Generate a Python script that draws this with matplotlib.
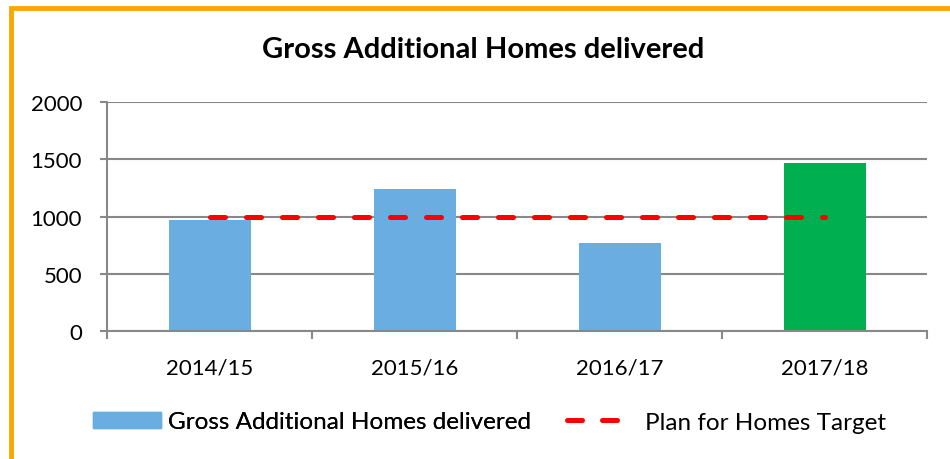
import matplotlib.pyplot as plt
import matplotlib.patches as mpatches
from matplotlib.lines import Line2D
import numpy as np

years = ["2014/15", "2015/16", "2016/17", "2017/18"]
homes = [970, 1240, 770, 1465]
target = [1000, 1000, 1000, 1000]
bar_colors = ["#6AADE0", "#6AADE0", "#6AADE0", "#00B050"]

plt.rcParams['font.family'] = ['Lato', 'DejaVu Sans']

fig = plt.figure(figsize=(9.5, 4.6), dpi=100)
ax = fig.add_axes([107/950, 1-332/460, 820/950, 229/460])

x = np.arange(len(years))
ax.bar(x, homes, width=0.4, color=bar_colors, zorder=2)
ax.plot(x, target, color="#FF0000", lw=3.6, dashes=(3, 4.2),
        dash_capstyle="round", zorder=3)

ax.set_xlim(-0.5, len(years) - 0.5)
ax.set_ylim(0, 2000)
ax.set_yticks([0, 500, 1000, 1500, 2000])
ax.yaxis.grid(True, color="#888888", lw=1.5, zorder=1)
ax.set_axisbelow(True)
for s in ["top", "right"]:
    ax.spines[s].set_visible(False)
for s in ["left", "bottom"]:
    ax.spines[s].set_color("#888888")
    ax.spines[s].set_linewidth(1.5)

ax.set_xticks(x)
ax.set_xticklabels(years)
ax.set_xticks(np.arange(-0.5, len(years)), minor=True)
ax.tick_params(axis="x", which="major", length=0, pad=19, labelsize=16)
ax.tick_params(axis="x", which="minor", length=6, width=1.5, color="#888888")
ax.tick_params(axis="y", length=5, width=1.5, color="#888888", labelsize=16, pad=13)

fig.text(483/950, 1-50/460, "Gross Additional Homes delivered",
         ha="center", va="center", fontsize=21, fontweight="bold")

# legend: two pieces so the spacing of each entry can follow the reference
leg1 = fig.legend(handles=[mpatches.Patch(color="#6AADE0",
                                          label="Gross Additional Homes delivered")],
                  loc="center left", bbox_to_anchor=(93/950, 1-423/460),
                  frameon=False, fontsize=17.5, handlelength=2.8,
                  handleheight=0.62, handletextpad=0.29, borderpad=0,
                  borderaxespad=0)
leg2 = fig.legend(handles=[Line2D([], [], color="#FF0000", lw=3.6, dashes=(3, 4),
                                  dash_capstyle="round",
                                  label="Plan for Homes Target")],
                  loc="center left", bbox_to_anchor=(567/950, 1-423/460),
                  frameon=False, fontsize=17.5, handlelength=2.26,
                  handletextpad=0.95, borderpad=0, borderaxespad=0)
fig.add_artist(leg1)

# orange frame, only top and left edges visible in the crop
fig.add_artist(mpatches.Rectangle((11/950, -0.1), 1.2, 1-9/460 + 0.1,
                                  transform=fig.transFigure, fill=False,
                                  edgecolor="#F9A800", lw=3.5))

fig.savefig("out.png", dpi=100)
plt.close(fig)
